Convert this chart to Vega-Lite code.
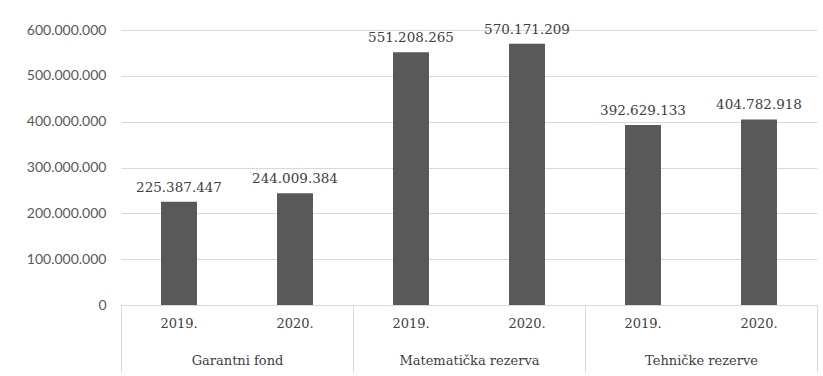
{
  "$schema": "https://vega.github.io/schema/vega-lite/v6.json",
  "width": 696,
  "height": 275,
  "autosize": "none",
  "padding": {"left": 121, "top": 30, "right": 6, "bottom": 71},
  "background": "white",
  "config": {
    "view": {"stroke": null},
    "locale": {"number": {"decimal": ",", "thousands": ".", "grouping": [3], "currency": ["", ""]}}
  },
  "data": {
    "values": [
      {"group": "Garantni fond", "year": "2019.", "value": 225387447},
      {"group": "Garantni fond", "year": "2020.", "value": 244009384},
      {"group": "Matematička rezerva", "year": "2019.", "value": 551208265},
      {"group": "Matematička rezerva", "year": "2020.", "value": 570171209},
      {"group": "Tehničke rezerve", "year": "2019.", "value": 392629133},
      {"group": "Tehničke rezerve", "year": "2020.", "value": 404782918}
    ]
  },
  "encoding": {
    "x": {
      "field": "group",
      "type": "nominal",
      "sort": null,
      "scale": {"paddingInner": 0, "paddingOuter": 0},
      "axis": {
        "title": null,
        "domain": true,
        "domainColor": "#d9d9d9",
        "ticks": true,
        "tickBand": "extent",
        "tickSize": 67,
        "tickColor": "#d9d9d9",
        "labelAngle": 0,
        "labelFont": "DejaVu Serif",
        "labelFontSize": 13,
        "labelColor": "#404040",
        "labelPadding": -18
      }
    },
    "xOffset": {
      "field": "year",
      "type": "nominal",
      "scale": {"paddingInner": 0.69, "paddingOuter": 0.345}
    }
  },
  "layer": [
    {
      "mark": {"type": "bar", "color": "#595959"},
      "encoding": {
        "y": {
          "field": "value",
          "type": "quantitative",
          "scale": {"domain": [0, 600000000]},
          "axis": {
            "title": null,
            "format": ",d",
            "values": [0, 100000000, 200000000, 300000000, 400000000, 500000000, 600000000],
            "labelOverlap": false,
            "domain": false,
            "ticks": false,
            "grid": true,
            "gridColor": "#d9d9d9",
            "labelFont": "Lato",
            "labelFontSize": 14,
            "labelColor": "#595959",
            "labelPadding": 15
          }
        }
      }
    },
    {
      "mark": {"type": "text", "font": "DejaVu Serif", "fontSize": 13.5, "color": "#404040", "baseline": "bottom", "dy": -7},
      "encoding": {
        "y": {"field": "value", "type": "quantitative"},
        "text": {"field": "value", "type": "quantitative", "format": ",d"}
      }
    },
    {
      "mark": {"type": "text", "font": "DejaVu Serif", "fontSize": 13, "color": "#404040", "baseline": "top", "dy": 13},
      "encoding": {
        "y": {"datum": 0, "type": "quantitative"},
        "text": {"field": "year"}
      }
    }
  ]
}
